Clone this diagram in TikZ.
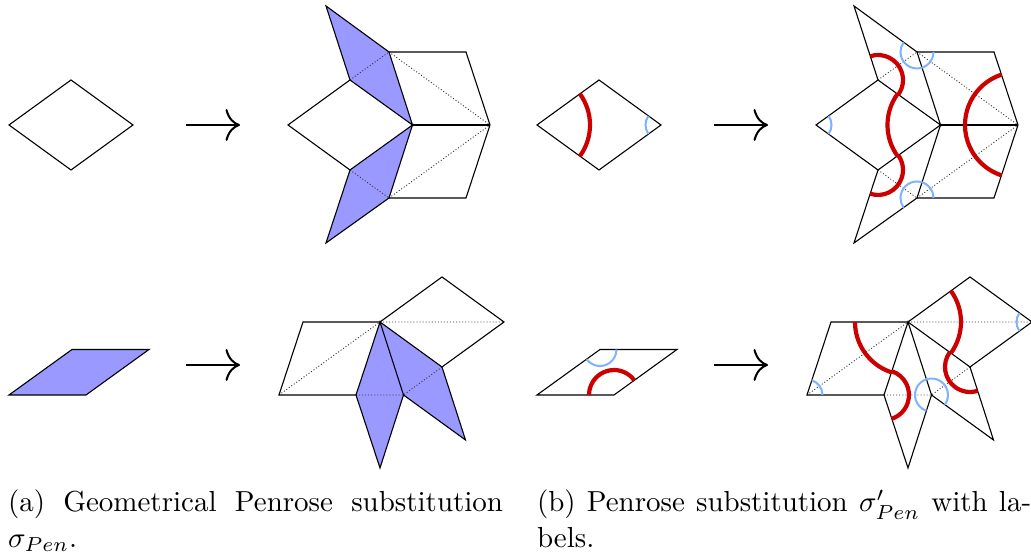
\documentclass[tikz,border=0pt]{standalone}
\usetikzlibrary{arrows.meta}
\definecolor{lblue}{RGB}{128,179,255}
\definecolor{lred}{RGB}{204,0,0}
\tikzset{
  edge/.style={black,line width=0.38pt,line join=miter},
  diag/.style={black!80,line width=0.3pt,dash pattern=on 0.35pt off 0.7pt},
  thinfill/.style={fill=blue!40,draw=none},
  redarc/.style={lred,line width=1.45pt},
  bluearc/.style={lblue,line width=0.7pt},
  maparrow/.style={line width=0.7pt,-{Computer Modern Rightarrow[length=5pt,width=11pt,line width=0.7pt]}},
  caption/.style={anchor=north west,inner sep=0pt,outer sep=0pt,align=left,font=\fontsize{10}{12.3}\selectfont}
}
% Y(y) = 556 - y
\newcommand{\ptt}[3]{\coordinate (#1) at (#2,556-#3);}
\newcommand{\rarc}[4]{\draw[redarc] ([shift={(#2:#4)}]#1) arc[start angle=#2,end angle=#3,radius=#4];}
\newcommand{\barc}[4]{\draw[bluearc] ([shift={(#2:#4)}]#1) arc[start angle=#2,end angle=#3,radius=#4];}
\newcommand{\upperpts}[2]{%
  \ptt{#1A}{326+#2}{6}\ptt{#1B}{389+#2}{52}\ptt{#1C}{350+#2}{80}\ptt{#1D}{288+#2}{125}
  \ptt{#1E}{412.5+#2}{125}\ptt{#1F}{350+#2}{170}\ptt{#1G}{389+#2}{198}\ptt{#1H}{326+#2}{243}
  \ptt{#1I}{466+#2}{52}\ptt{#1J}{490+#2}{125}\ptt{#1K}{466+#2}{198}}
\newcommand{\upperedges}[1]{%
  \draw[diag] (#1C)--(#1B) (#1F)--(#1G) (#1B)--(#1J) (#1G)--(#1J);
  \draw[edge] (#1A)--(#1B)--(#1E)--(#1C)--cycle;
  \draw[edge] (#1H)--(#1G)--(#1E)--(#1F)--cycle;
  \draw[edge] (#1C)--(#1D)--(#1F);
  \draw[edge] (#1B)--(#1I)--(#1J)--(#1K)--(#1G);
  \draw[edge] (#1E)--(#1J);}
\newcommand{\lowerpts}[2]{%
  \ptt{#1P}{279+#2}{395}\ptt{#1Q}{303+#2}{322}\ptt{#1R}{380+#2}{322}\ptt{#1S}{442+#2}{277}
  \ptt{#1T}{504+#2}{322}\ptt{#1U}{442+#2}{367}\ptt{#1V}{356+#2}{395}\ptt{#1W}{403.5+#2}{395}
  \ptt{#1X}{380+#2}{468}\ptt{#1Y}{465.5+#2}{440}}
\newcommand{\loweredges}[1]{%
  \draw[diag] (#1P)--(#1R) (#1R)--(#1T) (#1V)--(#1W) (#1U)--(#1W);
  \draw[edge] (#1R)--(#1V)--(#1X)--(#1W)--cycle;
  \draw[edge] (#1R)--(#1U)--(#1Y)--(#1W);
  \draw[edge] (#1V)--(#1P)--(#1Q)--(#1R)--(#1S)--(#1T)--(#1U);}
\begin{document}
\begin{tikzpicture}[x=0.345pt,y=0.345pt]
\useasboundingbox (0,0) rectangle (1031,556);
% single tiles
\ptt{fa}{9}{125}\ptt{fb}{71}{80}\ptt{fc}{133}{125}\ptt{fd}{71}{170}
\ptt{ta}{9}{395}\ptt{tb}{72}{349.5}\ptt{tc}{149}{349.5}\ptt{td}{86}{395}
\ptt{ffa}{537}{125}\ptt{ffb}{599}{80}\ptt{ffc}{661}{125}\ptt{ffd}{599}{170}
\ptt{tta}{537}{395}\ptt{ttb}{600}{349.5}\ptt{ttc}{677}{349.5}\ptt{ttd}{614}{395}
% arrows
\ptt{a1s}{186}{125}\ptt{a1e}{240}{125}\ptt{a2s}{186}{365}\ptt{a2e}{240}{365}
\ptt{a3s}{714}{125}\ptt{a3e}{768}{125}\ptt{a4s}{714}{365}\ptt{a4e}{768}{365}
\upperpts{l}{0}\upperpts{r}{528}
\lowerpts{m}{0}\lowerpts{n}{528}
% fills
\fill[thinfill] (ta)--(tb)--(tc)--(td)--cycle;
\fill[thinfill] (lA)--(lB)--(lE)--(lC)--cycle;
\fill[thinfill] (lH)--(lG)--(lE)--(lF)--cycle;
\fill[thinfill] (mR)--(mV)--(mX)--(mW)--cycle;
\fill[thinfill] (mR)--(mU)--(mY)--(mW)--cycle;
% edges
\draw[edge] (fa)--(fb)--(fc)--(fd)--cycle;
\draw[edge] (ta)--(tb)--(tc)--(td)--cycle;
\draw[edge] (ffa)--(ffb)--(ffc)--(ffd)--cycle;
\draw[edge] (tta)--(ttb)--(ttc)--(ttd)--cycle;
\upperedges{l}\upperedges{r}
\loweredges{m}\loweredges{n}
% arrows
\draw[maparrow] (a1s)--(a1e);
\draw[maparrow] (a2s)--(a2e);
\draw[maparrow] (a3s)--(a3e);
\draw[maparrow] (a4s)--(a4e);
% labels: single tiles
\rarc{ffa}{36}{-36}{53}
\barc{ffc}{144}{216}{15.5}
\rarc{ttd}{180}{36}{25}
\barc{ttb}{216}{360}{16.5}
% labels: upper
\barc{rD}{36}{-36}{15.5}
\rarc{rE}{144}{216}{53}
\rarc{rC}{108}{-36}{25}
\rarc{rF}{-108}{36}{25}
\barc{rB}{0}{-216}{16.5}
\barc{rG}{0}{216}{16.5}
\rarc{rJ}{108}{252}{53}
% labels: lower
\barc{nP}{0}{72}{15.5}
\barc{nT}{144}{216}{15.5}
\barc{nW}{252}{-36}{16.5}
\rarc{nR}{180}{252}{53}
\rarc{nV}{72}{-72}{25}
\rarc{nR}{36}{-36}{53}
\rarc{nU}{144}{288}{25}
% captions
\node[caption] (capa) at (8,556-490) {\hbox to 170.8pt{(a) Geometrical Penrose substitution}\\$\sigma_{Pen}$.};
\node[caption] (capb) at (537,556-490) {\hbox to 170.5pt{(b) Penrose substitution $\sigma'_{Pen}$ with la-}\\bels.};
\end{tikzpicture}
\end{document}
